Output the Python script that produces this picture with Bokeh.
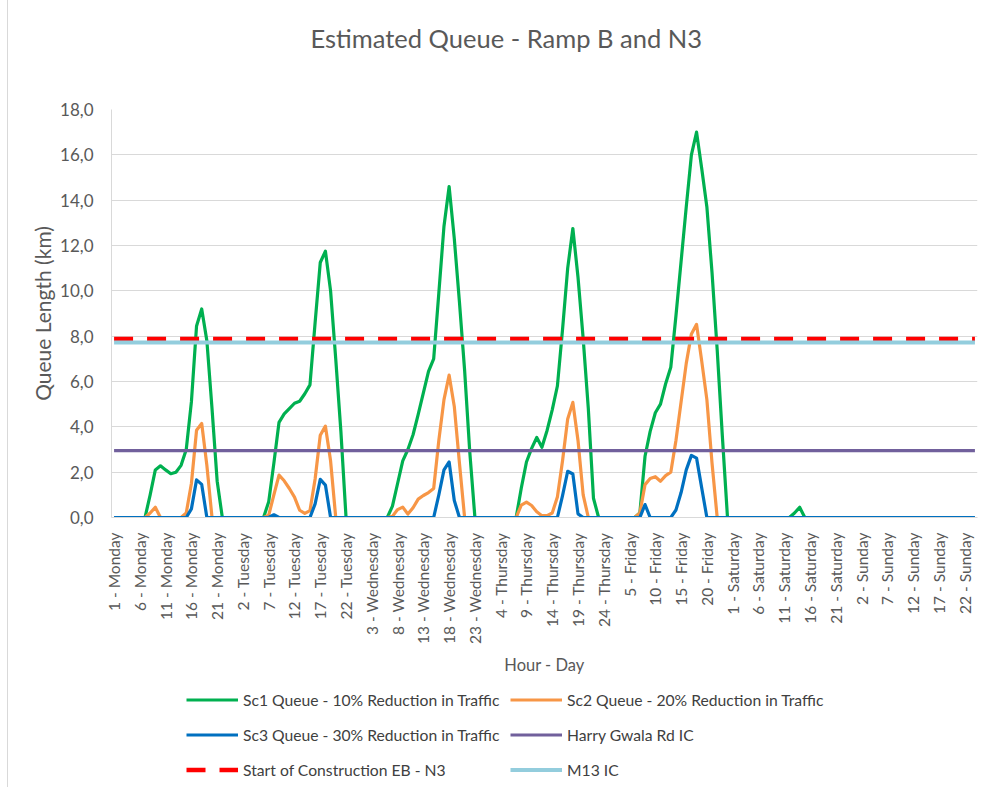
from bokeh.plotting import figure
from bokeh.layouts import column
from bokeh.models import ColumnDataSource, FixedTicker, Legend, LegendItem, Range1d, Title
from bokeh.embed import file_html
from bokeh.resources import INLINE

# ---------------- data ----------------
days = ["Monday", "Tuesday", "Wednesday", "Thursday", "Friday", "Saturday", "Sunday"]
hours = list(range(1, 25))
categories = [f"{h} - {d}" for d in days for h in hours]

sc1_queue = [
    # Monday
    0, 0, 0, 0, 0, 0, 0, 1.0, 2.1, 2.28, 2.1, 1.93, 2.0, 2.3, 3.0, 5.1, 8.45, 9.2, 7.8, 4.8, 1.6, 0, 0, 0,
    # Tuesday
    0, 0, 0, 0, 0, 0, 0.7, 2.4, 4.2, 4.57, 4.8, 5.04, 5.13, 5.46, 5.85, 8.6, 11.25, 11.75, 10.0, 7.0, 3.8, 0, 0, 0,
    # Wednesday
    0, 0, 0, 0, 0, 0, 0.5, 1.5, 2.5, 3.0, 3.65, 4.55, 5.5, 6.45, 7.0, 9.9, 12.85, 14.6, 12.3, 9.5, 6.5, 2.9, 0, 0,
    # Thursday
    0, 0, 0, 0, 0, 0, 0, 1.3, 2.45, 3.05, 3.53, 3.1, 3.84, 4.75, 5.8, 8.3, 11.0, 12.75, 10.6, 7.9, 4.8, 0.85, 0, 0,
    # Friday
    0, 0, 0, 0, 0, 0, 0.2, 2.7, 3.8, 4.62, 5.0, 5.9, 6.63, 8.9, 11.3, 13.7, 16.0, 17.0, 15.4, 13.7, 10.8, 7.4, 3.6, 0,
    # Saturday
    0, 0, 0, 0, 0, 0, 0, 0, 0, 0, 0, 0, 0.2, 0.45, 0, 0, 0, 0, 0, 0, 0, 0, 0, 0,
    # Sunday
    0, 0, 0, 0, 0, 0, 0, 0, 0, 0, 0, 0, 0, 0, 0, 0, 0, 0, 0, 0, 0, 0, 0, 0,
]

sc2_queue = [
    # Monday
    0, 0, 0, 0, 0, 0, 0, 0.2, 0.45, 0, 0, 0, 0, 0, 0.2, 1.5, 3.85, 4.15, 2.3, 0, 0, 0, 0, 0,
    # Tuesday
    0, 0, 0, 0, 0, 0, 0.1, 1.0, 1.87, 1.62, 1.28, 0.9, 0.32, 0.18, 0.3, 1.7, 3.63, 4.03, 2.5, 0, 0, 0, 0, 0,
    # Wednesday
    0, 0, 0, 0, 0, 0, 0.05, 0.35, 0.46, 0.15, 0.43, 0.81, 0.97, 1.1, 1.28, 3.4, 5.2, 6.28, 4.9, 2.4, 0, 0, 0, 0,
    # Thursday
    0, 0, 0, 0, 0, 0, 0, 0.55, 0.68, 0.53, 0.25, 0.08, 0.08, 0.2, 0.9, 2.5, 4.35, 5.08, 3.4, 1.0, 0, 0, 0, 0,
    # Friday
    0, 0, 0, 0, 0, 0, 0.2, 1.45, 1.72, 1.8, 1.6, 1.85, 2.0, 3.4, 5.1, 6.8, 8.1, 8.52, 6.9, 5.2, 2.4, 0, 0, 0,
    # Saturday
    0, 0, 0, 0, 0, 0, 0, 0, 0, 0, 0, 0, 0, 0, 0, 0, 0, 0, 0, 0, 0, 0, 0, 0,
    # Sunday
    0, 0, 0, 0, 0, 0, 0, 0, 0, 0, 0, 0, 0, 0, 0, 0, 0, 0, 0, 0, 0, 0, 0, 0,
]

sc3_queue = [
    # Monday
    0, 0, 0, 0, 0, 0, 0, 0, 0, 0, 0, 0, 0, 0, 0, 0.38, 1.66, 1.46, 0, 0, 0, 0, 0, 0,
    # Tuesday
    0, 0, 0, 0, 0, 0, 0, 0.12, 0, 0, 0, 0, 0, 0, 0, 0.6, 1.68, 1.43, 0, 0, 0, 0, 0, 0,
    # Wednesday
    0, 0, 0, 0, 0, 0, 0, 0, 0, 0, 0, 0, 0, 0, 0, 1.0, 2.1, 2.45, 0.75, 0, 0, 0, 0, 0,
    # Thursday
    0, 0, 0, 0, 0, 0, 0, 0, 0, 0, 0, 0, 0, 0, 0, 0.97, 2.04, 1.92, 0.16, 0, 0, 0, 0, 0,
    # Friday
    0, 0, 0, 0, 0, 0, 0, 0.57, 0, 0, 0, 0, 0, 0.33, 1.1, 2.1, 2.74, 2.62, 1.3, 0, 0, 0, 0, 0,
    # Saturday
    0, 0, 0, 0, 0, 0, 0, 0, 0, 0, 0, 0, 0, 0, 0, 0, 0, 0, 0, 0, 0, 0, 0, 0,
    # Sunday
    0, 0, 0, 0, 0, 0, 0, 0, 0, 0, 0, 0, 0, 0, 0, 0, 0, 0, 0, 0, 0, 0, 0, 0,
]

harry_gwala_level = 2.95
start_construction_level = 7.87
m13_level = 7.72

series_names = [
    "Sc1 Queue - 10% Reduction in Traffic",
    "Sc2 Queue - 20% Reduction in Traffic",
    "Sc3 Queue - 30% Reduction in Traffic",
    "Harry Gwala Rd IC",
    "Start of Construction EB - N3",
    "M13 IC",
]

y_ticks = [0, 2, 4, 6, 8, 10, 12, 14, 16, 18]
y_tick_labels = ["0,0", "2,0", "4,0", "6,0", "8,0", "10,0", "12,0", "14,0", "16,0", "18,0"]
x_label_step = 5

chart_title = "Estimated Queue - Ramp B and N3"
x_title = "Hour - Day"
y_title = "Queue Length (km)"

# ---------------- styles ----------------
FONT = "Lato"
TXT = "#595959"
styles = [
    dict(line_color="#00B050", line_width=3.2, line_join="round"),
    dict(line_color="#F79646", line_width=3.2, line_join="round"),
    dict(line_color="#0070C0", line_width=3.2, line_join="round"),
    dict(line_color="#71609C", line_width=3.2),
    dict(line_color="#FF0000", line_width=4.5, line_dash="19 14"),
    dict(line_color="#93CDDD", line_width=4),
]

# the whole chart sits 8px in from the left, behind a thin chart-area border
SHIFT = 8

# ---------------- main chart ----------------
n = len(categories)
x_idx = list(range(n))
src = ColumnDataSource(dict(
    x=x_idx,
    sc1=sc1_queue,
    sc2=sc2_queue,
    sc3=sc3_queue,
    harry=[harry_gwala_level] * n,
    start=[start_construction_level] * n,
    m13=[m13_level] * n,
))

p = figure(
    width=985 - SHIFT, height=680, title=None,
    output_backend="svg", toolbar_location=None,
    x_range=Range1d(-0.5, n - 0.5), y_range=Range1d(0, 18),
    min_border_left=111 - SHIFT, min_border_right=8, min_border_top=109, min_border_bottom=163,
    background_fill_color="white", border_fill_color="white",
)
p.outline_line_color = None

x_ticks = list(range(0, n, x_label_step))
p.xaxis.ticker = FixedTicker(ticks=x_ticks)
p.xaxis.major_label_overrides = {t: categories[t] for t in x_ticks}
p.xaxis.major_label_orientation = 1.5707963267948966
p.xaxis.major_label_text_font = FONT
p.xaxis.major_label_text_font_size = "15.5px"
p.xaxis.major_label_text_color = TXT
p.xaxis.major_label_standoff = 9
p.xaxis.major_tick_line_color = None
p.xaxis.minor_tick_line_color = None
p.xaxis.axis_line_color = "#d9d9d9"
p.xaxis.axis_label = x_title
p.xaxis.axis_label_text_font = FONT
p.xaxis.axis_label_text_font_style = "normal"
p.xaxis.axis_label_text_font_size = "16.5px"
p.xaxis.axis_label_text_color = TXT
p.xaxis.axis_label_standoff = 8

p.yaxis.ticker = FixedTicker(ticks=y_ticks)
p.yaxis.major_label_overrides = {t: l for t, l in zip(y_ticks, y_tick_labels)}
p.yaxis.major_label_text_font = FONT
p.yaxis.major_label_text_font_size = "17px"
p.yaxis.major_label_text_color = TXT
p.yaxis.major_label_standoff = 12
p.yaxis.major_tick_line_color = None
p.yaxis.minor_tick_line_color = None
p.yaxis.axis_line_color = "#d9d9d9"
p.yaxis.axis_label = y_title
p.yaxis.axis_label_text_font = FONT
p.yaxis.axis_label_text_font_style = "normal"
p.yaxis.axis_label_text_font_size = "21px"
p.yaxis.axis_label_text_color = TXT
p.yaxis.axis_label_standoff = 2

p.xgrid.visible = False
p.ygrid.ticker = FixedTicker(ticks=y_ticks)
p.ygrid.grid_line_color = "#d9d9d9"
p.ygrid.grid_line_width = 1

cols = ["sc1", "sc2", "sc3", "harry", "start", "m13"]
for c, st in zip(cols, styles):
    p.line("x", c, source=src, **st)

# title (a thin spacer panel keeps the title well above the plot area)
p.add_layout(Title(text=" ", text_font_size="1px", standoff=54), "above")
p.add_layout(Title(text=chart_title, align="left", offset=199, standoff=0,
                   text_font=FONT, text_font_size="25.5px", text_font_style="normal",
                   text_color=TXT), "above")

# ---------------- legend strip ----------------
lg = figure(
    width=985 - SHIFT, height=107, title=None,
    output_backend="svg", toolbar_location=None,
    x_axis_type=None, y_axis_type=None,
    x_range=Range1d(0, 1), y_range=Range1d(0, 1),
    min_border=0, min_border_left=0, min_border_right=0, min_border_top=0, min_border_bottom=0,
    background_fill_color="white", border_fill_color="white",
)
lg.outline_line_color = None

nan = float("nan")
key_renderers = [lg.line(x=[nan], y=[nan], **st) for st in styles]

legend = Legend(
    items=[LegendItem(label=nm, renderers=[r]) for nm, r in zip(series_names, key_renderers)],
    location=(75, 5), orientation="horizontal", ncols=2,
    glyph_width=52, glyph_height=25, label_height=25, label_standoff=5, label_width=257,
    spacing=10, padding=0, margin=0,
    border_line_color=None, background_fill_alpha=0,
    label_text_font=FONT, label_text_font_size="15.7px", label_text_color="#404040",
)
lg.add_layout(legend, "center")

layout = column(p, lg, spacing=0,
                styles={"margin-left": f"{SHIFT - 1}px", "border-left": "1px solid #d9d9d9"})
open("out.html", "w").write(file_html(layout, INLINE))
